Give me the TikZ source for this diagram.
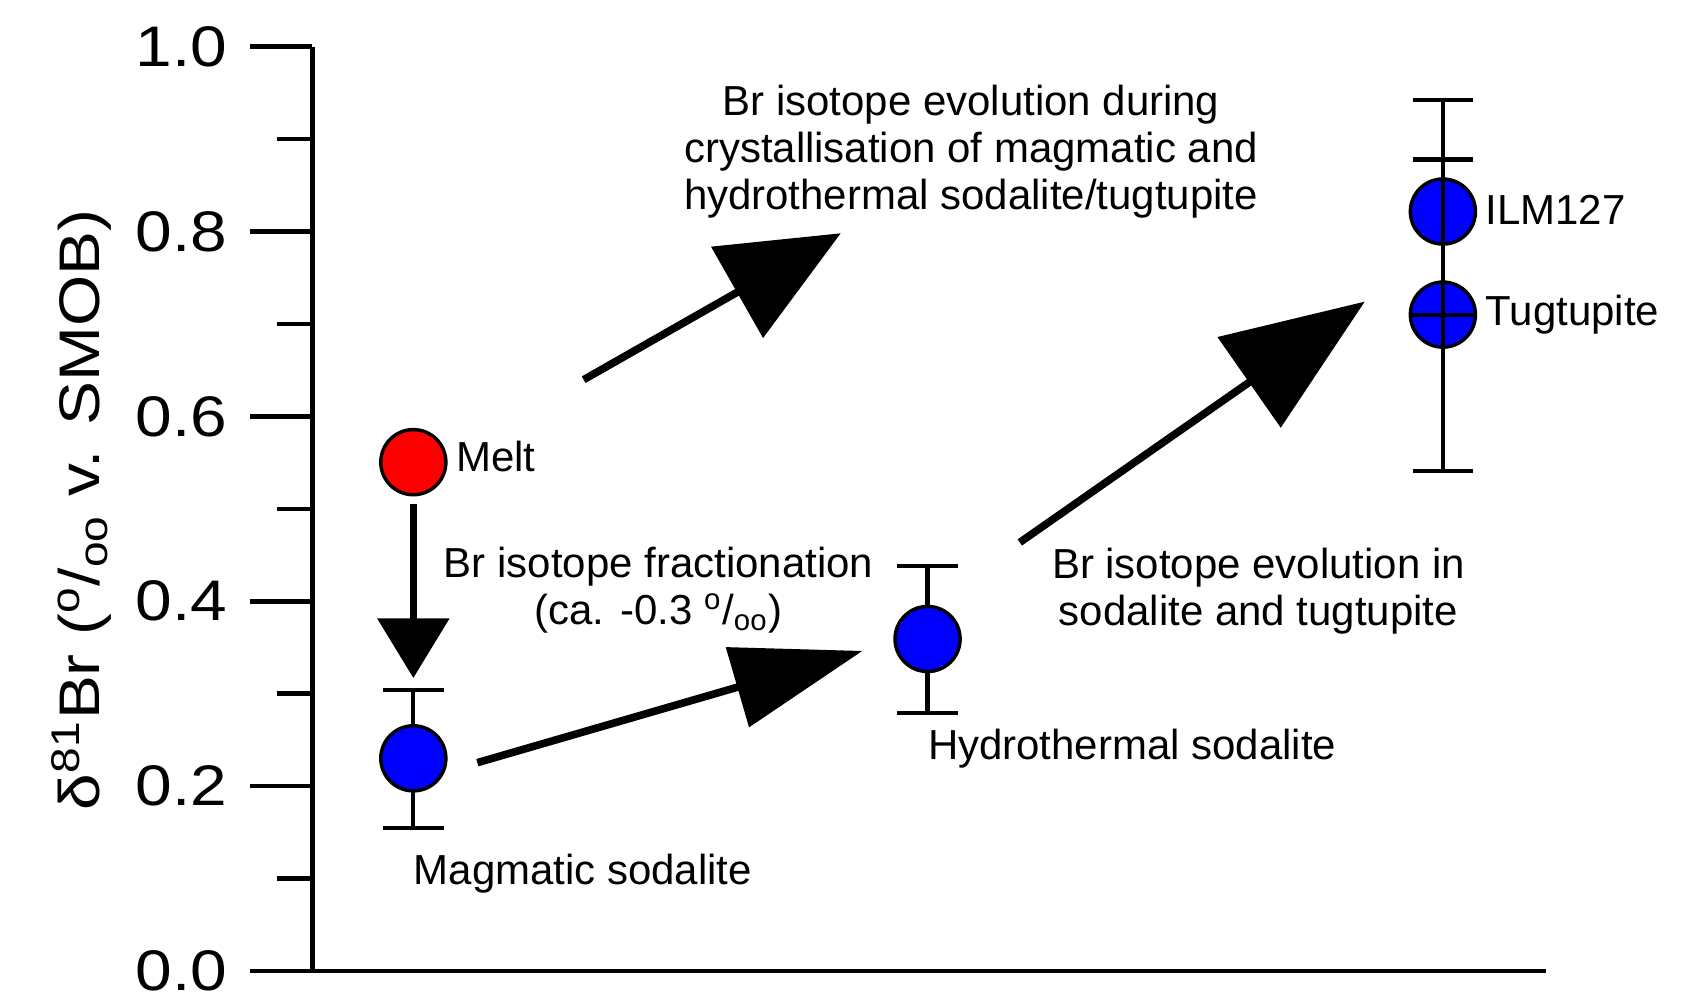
\documentclass[tikz,border=0pt]{standalone}
\usepackage{fontspec}
\setmainfont{Liberation Sans}
\usetikzlibrary{arrows.meta}
\begin{document}
\begin{tikzpicture}[x=0.01cm,y=-0.01cm,
  ax/.style={line width=1.2pt},
  bar/.style={line width=1.1pt},
  big/.style={line width=2pt},
  dot/.style={circle,draw=black,line width=0.9pt,minimum size=0.6cm,inner sep=0},
  lab/.style={font=\fontsize{11pt}{12.3pt}\selectfont,align=center},
  tick/.style={font=\fontsize{15pt}{15pt}\selectfont,anchor=east}]
\useasboundingbox (0,0) rectangle (1567,919);
% axes
\draw[ax] (288,43) -- (288,895) coordinate (o);
\draw[ax] (230,895) -- (1425,895);
\foreach \v/\t in {1.0/1.0,0.8/0.8,0.6/0.6,0.4/0.4,0.2/0.2}{
  \draw[ax] (230,{895-852*\v}) -- (288,{895-852*\v});
  \node[tick] (t\t) at (222,{895-852*\v}) {\scalebox{1.15}[1]{\t}};}
\node[tick] (t0) at (222,895) {\scalebox{1.15}[1]{0.0}};
\foreach \v in {0.9,0.7,0.5,0.3,0.1}
  \draw[ax] (255,{895-852*\v}) -- (288,{895-852*\v});
\node[rotate=90,font=\fontsize{15pt}{15pt}\selectfont] (yl) at (75,470)
  {\scalebox{1.15}[1]{δ\textsuperscript{81}Br (\textsuperscript{o}/\textsubscript{oo} v. SMOB)}};
% error bars
\draw[bar] (381,636) -- (381,763);
\draw[bar] (353,636) -- (409,636); \draw[bar] (353,763) -- (409,763);
\draw[bar] (855,522) -- (855,657);
\draw[bar] (827,522) -- (883,522); \draw[bar] (827,657) -- (883,657);
\draw[bar] (1330,92) -- (1330,434);
\draw[bar] (1302,92) -- (1358,92); \draw[bar] (1302,147) -- (1358,147);
\draw[bar] (1302,434) -- (1358,434);
% points
\node[dot,fill=red] (melt) at (381,426) {};
\node[dot,fill=blue] (mag) at (381,699) {};
\node[dot,fill=blue] (hyd) at (855,589) {};
\node[dot,fill=blue] (ilm) at (1330,195) {};
\node[dot,fill=blue] (tug) at (1330,290) {};
\draw[bar] (1330,165) -- (1330,225);
\draw[bar] (1330,260) -- (1330,320); \draw[bar] (1300,290) -- (1360,290);
% arrows
\coordinate (a1s) at (538,350); \coordinate (a1e) at (775,215);
\coordinate (a2s) at (381,465); \coordinate (a2e) at (381,625);
\coordinate (a3s) at (440,703); \coordinate (a3e) at (795,600);
\coordinate (a4s) at (940,500); \coordinate (a4e) at (1258,278);
\draw[big,-{Triangle[length=1.1cm,width=0.95cm]}] (a1s) -- (a1e);
\draw[big,-{Triangle[length=0.55cm,width=0.65cm]}] (a2s) -- (a2e);
\draw[big,-{Triangle[length=1.2cm,width=0.75cm]}] (a3s) -- (a3e);
\draw[big,-{Triangle[length=1.3cm,width=1.0cm]}] (a4s) -- (a4e);
% labels
\node[lab] (l1) at (895,140) {Br isotope evolution during\\crystallisation of magmatic and\\hydrothermal sodalite/tugtupite};
\node[lab] (l2) at (607,544) {Br isotope fractionation\\(ca. -0.3 \textsuperscript{o}/\textsubscript{oo})};
\node[lab] (l3) at (1160,545) {Br isotope evolution in\\sodalite and tugtupite};
\node[lab,anchor=west] (l4) at (843,690) {Hydrothermal sodalite};
\node[lab,anchor=west] (l5) at (369,805) {Magmatic sodalite};
\node[lab,anchor=west] (l6) at (408,421) {Melt};
\node[lab,anchor=west] (l7) at (1357,193) {ILM127};
\node[lab,anchor=west] (l8) at (1357,290) {Tugtupite};
\end{tikzpicture}
\end{document}
